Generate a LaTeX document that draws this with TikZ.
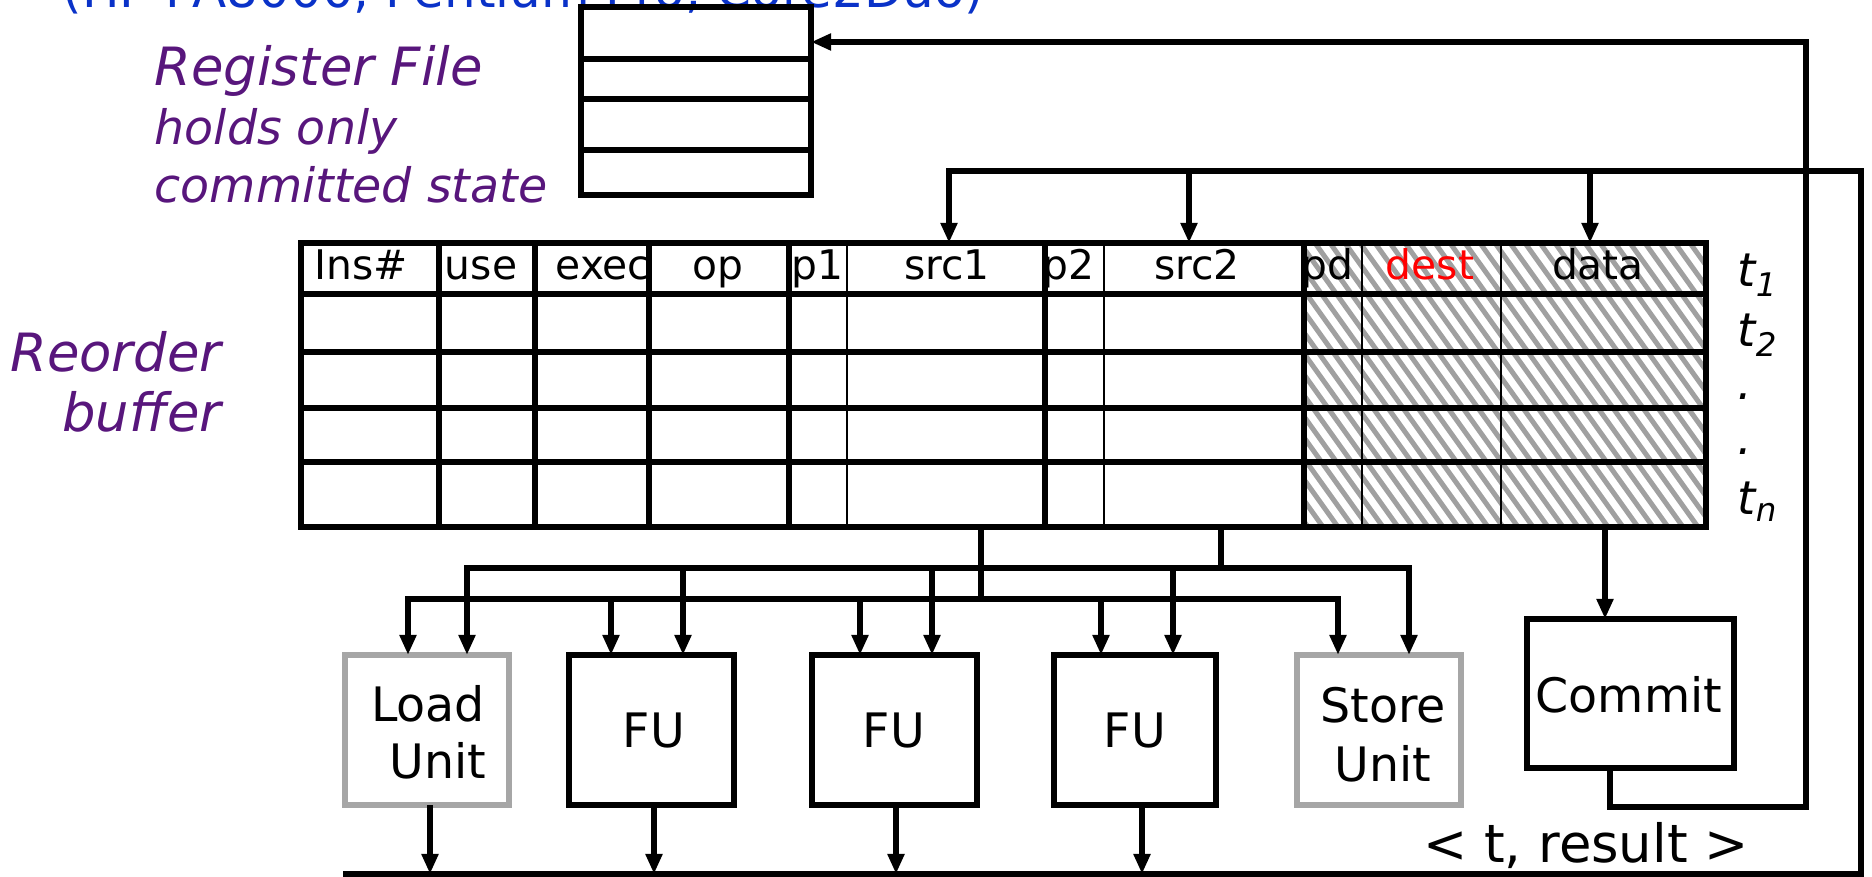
\documentclass[tikz,border=0pt]{standalone}
\usepackage{fontspec}
\setmainfont{DejaVu Sans}
\usetikzlibrary{arrows.meta}
\definecolor{rfpurple}{RGB}{88,22,124}
\definecolor{titleblue}{RGB}{10,50,200}
\definecolor{unitgray}{RGB}{166,166,166}
\definecolor{hatchgray}{RGB}{160,160,160}
\definecolor{destred}{RGB}{255,0,0}
\tikzset{
  wire/.style={line width=0.055cm},
  arr/.style={wire, -{Triangle[length=0.2cm,width=0.16cm]}},
  thickrule/.style={line width=0.055cm},
  thinrule/.style={line width=0.022cm},
  unitbox/.style={draw, line width=0.055cm, minimum width=1.64cm, minimum height=1.50cm, inner sep=0, outer sep=0},
  grayunit/.style={unitbox, draw=unitgray},
  lbl/.style={font=\fontsize{13.5}{16}\selectfont, inner sep=0, anchor=base},
  hdr/.style={font=\fontsize{11.6}{14}\selectfont, inner sep=0, anchor=base},
  purpbig/.style={text=rfpurple, font=\itshape\fontsize{15}{18}\selectfont, inner sep=0},
  purpsmall/.style={text=rfpurple, font=\itshape\fontsize{13.5}{16}\selectfont, inner sep=0, anchor=base west},
  tlab/.style={font=\itshape\fontsize{13.2}{16}\selectfont, inner sep=0, anchor=base west},
}
\begin{document}
\begin{tikzpicture}[x=0.01cm,y=-0.01cm]
\useasboundingbox (0,0) rectangle (1872,877);
\clip (0,0) rectangle (1872,877);

% title (cut off at top)
\node[anchor=base west, inner sep=0, text=titleblue, font=\fontsize{14.2}{17}\selectfont] (title) at (62,8) {(HP PA8000, Pentium Pro, Core2Duo)};

% left labels
\node[purpbig, anchor=base west] (rflab) at (154,86) {Register File};
\node[purpsmall] (rfl2) at (154,145) {holds only};
\node[purpsmall] (rfl3) at (154,203) {committed state};
\node[purpbig, anchor=base east] (roblab1) at (222,372) {Reorder};
\node[purpbig, anchor=base east] (roblab2) at (222,432) {buffer};

% register file
\node[draw, line width=0.06cm, minimum width=2.3cm, minimum height=1.88cm, inner sep=0, outer sep=0] (rf) at (696,101) {};
\foreach \y in {59,99,150} \draw[thickrule] (581,\y) -- (811,\y);

% reorder buffer
\node[minimum width=14.05cm, minimum height=2.84cm, inner sep=0, outer sep=0] (rob) at (1003.5,385) {};
\begin{scope}
  \clip (1304,243) rectangle (1706,527);
  \foreach \x in {1090,1105,...,1720} \draw[hatchgray, line width=0.05cm] (\x,243) -- ++(203,284);
\end{scope}
\node[hdr] (hins) at (361,280) {Ins\#};
\node[hdr] (huse) at (481,280) {use};
\node[hdr] (hexec) at (603,280) {exec};
\node[hdr] (hop) at (718,280) {op};
\node[hdr, anchor=base west] (hp1) at (791,280) {p1};
\node[hdr] (hsrc1) at (947,280) {src1};
\node[hdr, anchor=base west] (hp2) at (1042,280) {p2};
\node[hdr] (hsrc2) at (1197,280) {src2};
\node[hdr, anchor=base west] (hpd) at (1301,280) {pd};
\node[hdr, text=destred] (hdest) at (1430,280) {dest};
\node[hdr] (hdata) at (1598,280) {data};
\foreach \y in {294,352,408,462} \draw[thickrule] (301,\y) -- (1706,\y);
\foreach \x in {439,535,649,789,1045,1304} \draw[thickrule] (\x,243) -- (\x,527);
\foreach \x in {847,1104,1362,1501} \draw[thinrule] (\x,243) -- (\x,527);
\draw[line width=0.06cm] (rob.north west) rectangle (rob.south east);

% tag labels
\node[tlab] (t1) at (1737,287) {t\textsubscript{1}};
\node[tlab] (t2) at (1737,347) {t\textsubscript{2}};
\node[tlab] (d1) at (1737,400) {.};
\node[tlab] (d2) at (1737,455) {.};
\node[tlab] (tn) at (1737,515) {t\textsubscript{n}};

% units
\node[grayunit] (load) at (427,730) {};
\node[unitbox, minimum width=1.65cm] (fu1) at (651.5,730) {};
\node[unitbox, minimum width=1.65cm] (fu2) at (894.5,730) {};
\node[unitbox, minimum width=1.62cm] (fu3) at (1135,730) {};
\node[grayunit] (store) at (1379,730) {};
\node[unitbox, minimum width=2.07cm, minimum height=1.49cm] (commit) at (1630.5,693.5) {};

\node[lbl] (tload) at (428,722) {Load};
\node[lbl] (tloadu) at (438,779) {Unit};
\node[lbl] (tfu1) at (654,748) {FU};
\node[lbl] (tfu2) at (894,748) {FU};
\node[lbl] (tfu3) at (1135,748) {FU};
\node[lbl] (tstore) at (1383,723) {Store};
\node[lbl] (tstoreu) at (1383,782) {Unit};
\node[lbl] (tcommit) at (1629,713) {Commit};
\node[font=\fontsize{15}{18}\selectfont, anchor=base, inner sep=0] (res) at (1586,863) {< t, result >};

% distribution buses
\coordinate (r1) at (981,527);
\coordinate (r2) at (1221,527);
\coordinate (lo) at (981,599);
\coordinate (up) at (1221,568);
\draw[wire] (r1) -- (lo);
\draw[wire] (r2) -- (up);
\coordinate (a1) at (408,599);
\coordinate (a2) at (611,599);
\coordinate (a3) at (860,599);
\coordinate (a4) at (1101,599);
\coordinate (a5) at (1338,599);
\coordinate (b1) at (467,568);
\coordinate (b2) at (683,568);
\coordinate (b3) at (932,568);
\coordinate (b4) at (1173,568);
\coordinate (b5) at (1409,568);
\draw[arr] (a2) -- (a1) -- (a1 |- load.north);
\draw[wire] (a2) -- (a4);
\draw[arr] (a4) -- (a5) -- (a5 |- store.north);
\draw[arr] (a2) -- (a2 |- fu1.north);
\draw[arr] (a3) -- (a3 |- fu2.north);
\draw[arr] (a4) -- (a4 |- fu3.north);
\draw[arr] (b2) -- (b1) -- (b1 |- load.north);
\draw[wire] (b2) -- (b4);
\draw[arr] (b4) -- (b5) -- (b5 |- store.north);
\draw[arr] (b2) -- (b2 |- fu1.north);
\draw[arr] (b3) -- (b3 |- fu2.north);
\draw[arr] (b4) -- (b4 |- fu3.north);

% result bus
\coordinate (bL) at (343,874);
\coordinate (bB) at (1861,874);
\coordinate (bR) at (1861,171);
\coordinate (s1) at (949,171);
\coordinate (s2) at (1189,171);
\coordinate (s3) at (1590,171);
\draw[arr] (bL) -- (bB) -- (bR) -- (s1) -- (s1 |- rob.north);
\draw[arr] (s2) -- (s2 |- rob.north);
\draw[arr] (s3) -- (s3 |- rob.north);
\coordinate (o1) at (430,874);
\coordinate (o2) at (654,874);
\coordinate (o3) at (896,874);
\coordinate (o4) at (1142,874);
\draw[arr] (o1 |- load.south) -- (o1);
\draw[arr] (o2 |- fu1.south) -- (o2);
\draw[arr] (o3 |- fu2.south) -- (o3);
\draw[arr] (o4 |- fu3.south) -- (o4);

% commit path
\coordinate (rc) at (1605,527);
\draw[arr] (rc) -- (rc |- commit.north);
\coordinate (c1) at (1610,807);
\coordinate (c2) at (1806,807);
\coordinate (c3) at (1806,42);
\draw[arr] (c1 |- commit.south) -- (c1) -- (c2) -- (c3) -- (c3 -| rf.east);
\end{tikzpicture}
\end{document}
